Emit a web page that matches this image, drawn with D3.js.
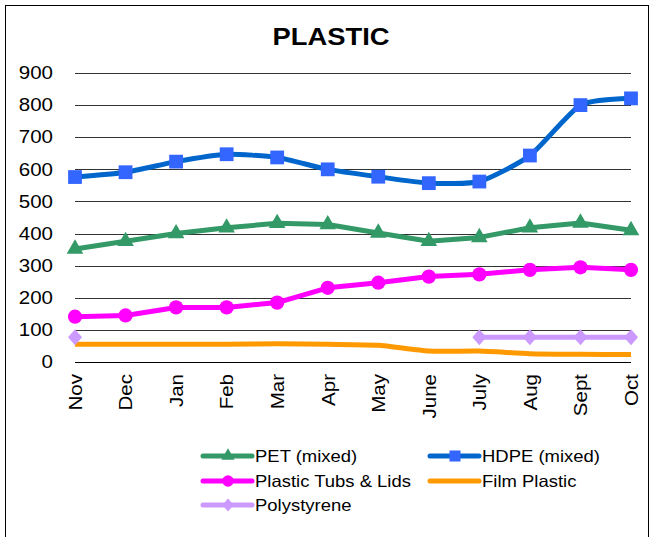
<!DOCTYPE html>
<html>
<head>
<meta charset="utf-8">
<script src="https://cdn.jsdelivr.net/npm/d3@7"></script>
<style>
  body { margin: 0; background: #fff; }
  svg { font-family: "Liberation Sans", Arial, sans-serif; }
</style>
</head>
<body>
<div id="chart"></div>
<script>
// chart data
const months = ["Nov", "Dec", "Jan", "Feb", "Mar", "Apr", "May", "June", "July", "Aug", "Sept", "Oct"]
const yTicks = [0, 100, 200, 300, 400, 500, 600, 700, 800, 900]
const petMixed = [352, 376, 400, 418, 432, 428, 402, 376, 388, 418, 433, 410]
const hdpeMixed = [576, 591, 624, 647, 637, 600, 577, 557, 562, 643, 800, 821]
const tubsLids = [141, 145, 170, 170, 185, 231, 247, 266, 273, 287, 295, 287]
const filmPlastic = [55, 55, 55, 55, 57, 55, 52, 34, 34, 26, 24, 23]
const polystyrene = [77, null, null, null, null, null, null, null, 77, 77, 77, 77]

const series = [
  { name: "PET (mixed)", values: petMixed, line: "#339966", fill: "#339966", marker: "triangle", smooth: false },
  { name: "HDPE (mixed)", values: hdpeMixed, line: "#0066cc", fill: "#3366ff", marker: "square", smooth: true },
  { name: "Plastic Tubs & Lids", values: tubsLids, line: "#ff00ff", fill: "#ff00ff", marker: "circle", smooth: false },
  { name: "Film Plastic", values: filmPlastic, line: "#ff9900", fill: "#ff9900", marker: null, smooth: true },
  { name: "Polystyrene", values: polystyrene, line: "#cc99ff", fill: "#cc99ff", marker: "diamond", smooth: false }
]

const W = 653, H = 537
const stretch = 1.14 // text in the reference is wider than Liberation Sans

const svg = d3.select("#chart").append("svg")
  .attr("width", W)
  .attr("height", H)

// outer frame
svg.append("rect")
  .attr("x", 5.5).attr("y", 5.5)
  .attr("width", 643).attr("height", 560)
  .attr("fill", "#fff")
  .attr("stroke", "#000")
  .attr("stroke-width", 1)

svg.append("text")
  .attr("transform", `translate(331,45) scale(${stretch},1)`)
  .attr("text-anchor", "middle")
  .attr("font-size", 24).attr("font-weight", "bold")
  .text("PLASTIC")

const x = d3.scalePoint().domain(months).range([75, 631])
const y = d3.scaleLinear().domain([0, 900]).range([362, 73])

// gridlines
svg.append("g")
  .selectAll("line")
  .data(yTicks)
  .join("line")
  .attr("x1", 75).attr("x2", 631)
  .attr("y1", d => Math.round(y(d)) + 0.5)
  .attr("y2", d => Math.round(y(d)) + 0.5)
  .attr("stroke", d => d === 0 ? "#000" : "#333")
  .attr("stroke-width", 1)

// y axis labels
const yAxis = svg.append("g")
  .attr("transform", "translate(75,0)")
  .call(d3.axisLeft(y).tickValues(yTicks).tickSize(0))
yAxis.select(".domain").remove()
yAxis.selectAll("text")
  .attr("font-size", 18).attr("fill", "#000")
  .attr("font-family", "Liberation Sans, Arial, sans-serif")
  .attr("x", 0)
  .attr("transform", `translate(-22,0) scale(${stretch},1)`)

// x axis labels, rotated
const xAxis = svg.append("g")
  .attr("transform", "translate(0,362)")
  .call(d3.axisBottom(x).tickSize(0).tickPadding(0))
xAxis.select(".domain").remove()
xAxis.selectAll("text")
  .attr("font-size", 18).attr("fill", "#000")
  .attr("font-family", "Liberation Sans, Arial, sans-serif")
  .attr("text-anchor", "end")
  .attr("dy", "0.35em")
  .attr("transform", `translate(0,12) rotate(-90) scale(${stretch},1)`)
  .attr("x", 0).attr("y", 0)

function markerPath(type) {
  if (type === "triangle") return d3.symbol(d3.symbolTriangle, 120)()
  if (type === "square") return d3.symbol(d3.symbolSquare, 190)()
  if (type === "circle") return d3.symbol(d3.symbolCircle, 160)()
  if (type === "diamond") return "M0,-8L7,0L0,8L-7,0Z"
  return null
}

const plot = svg.append("g")

series.forEach(s => {
  const pts = s.values.map((v, i) => ({ m: months[i], v }))
  const line = d3.line()
    .defined(d => d.v !== null)
    .x(d => x(d.m))
    .y(d => y(d.v))
    .curve(s.smooth ? d3.curveCardinal.tension(0.4) : d3.curveLinear)

  plot.append("path")
    .datum(pts)
    .attr("d", line)
    .attr("fill", "none")
    .attr("stroke", s.line)
    .attr("stroke-width", 5)
    .attr("stroke-linejoin", "round")

  if (s.marker) {
    plot.append("g").selectAll("path")
      .data(pts.filter(d => d.v !== null))
      .join("path")
      .attr("d", markerPath(s.marker))
      .attr("transform", d => `translate(${x(d.m)},${y(d.v)})`)
      .attr("fill", s.fill)
  }
})

// legend
const legendPos = [
  [203, 456], [430, 456],
  [203, 481], [430, 481],
  [203, 505]
]
const legend = svg.append("g")
series.forEach((s, i) => {
  const [lx, ly] = legendPos[i]
  const g = legend.append("g").attr("transform", `translate(${lx},${ly})`)
  g.append("line")
    .attr("x1", 0).attr("x2", 49)
    .attr("stroke", s.line).attr("stroke-width", 5)
    .attr("stroke-linecap", "round")
  if (s.marker) {
    g.append("path")
      .attr("d", markerPath(s.marker))
      .attr("transform", "translate(25,0) scale(0.8)")
      .attr("fill", s.fill)
  }
  g.append("text")
    .attr("transform", `translate(52,0) scale(1.12,1)`)
    .attr("dy", "0.35em")
    .attr("font-size", 16.5)
    .text(s.name)
})
</script>
</body>
</html>
